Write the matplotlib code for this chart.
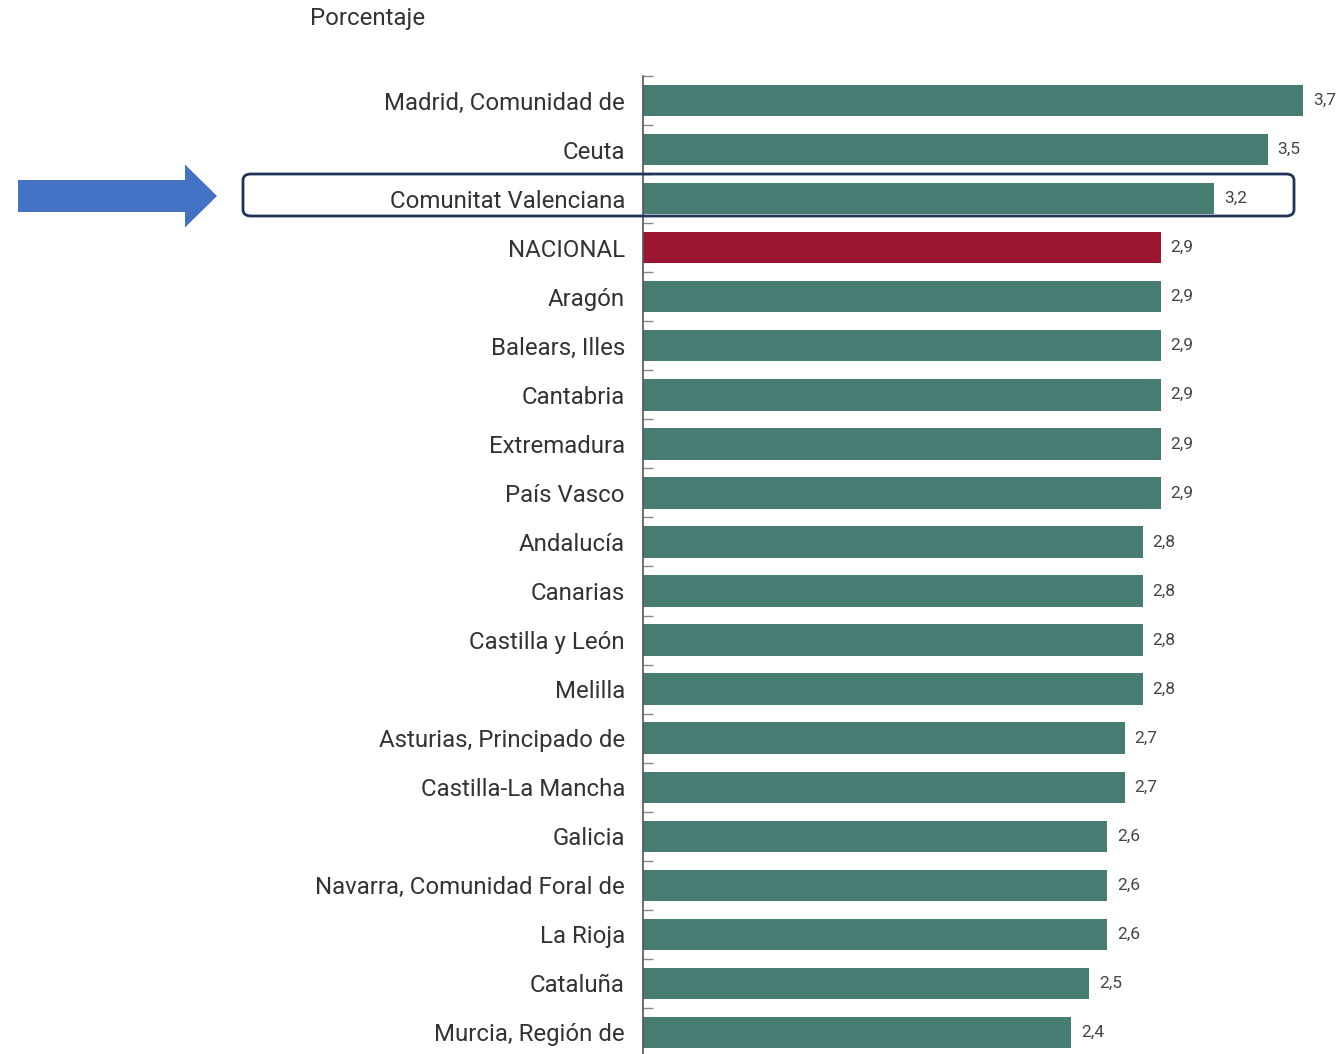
import matplotlib.pyplot as plt
from matplotlib.patches import FancyBboxPatch, FancyArrow

plt.rcParams['font.family'] = ['Roboto', 'DejaVu Sans']

regiones = ['Madrid, Comunidad de', 'Ceuta', 'Comunitat Valenciana', 'NACIONAL',
            'Aragón', 'Balears, Illes', 'Cantabria', 'Extremadura', 'País Vasco',
            'Andalucía', 'Canarias', 'Castilla y León', 'Melilla',
            'Asturias, Principado de', 'Castilla-La Mancha', 'Galicia',
            'Navarra, Comunidad Foral de', 'La Rioja', 'Cataluña', 'Murcia, Región de']
valores = [3.7, 3.5, 3.2, 2.9, 2.9, 2.9, 2.9, 2.9, 2.9, 2.8, 2.8, 2.8, 2.8,
           2.7, 2.7, 2.6, 2.6, 2.6, 2.5, 2.4]

verde = '#467c72'
rojo = '#9a1631'
colores = [rojo if r == 'NACIONAL' else verde for r in regiones]

W, H = 1344, 1054
fig = plt.figure(figsize=(W / 100, H / 100), dpi=100)
ax = fig.add_axes([643 / W, (H - 1057) / H, 696 / W, (1057 - 76) / H])

y = list(range(len(regiones)))
ax.barh(y, valores, height=0.64, color=colores)
ax.set_ylim(len(regiones) - 0.5, -0.5)
ax.set_xlim(0, 3.9)

for yi, v in zip(y, valores):
    ax.text(v + 0.055, yi, f'{v:.1f}'.replace('.', ','), va='center', ha='left',
            fontsize=12.5, color='#444444')

ax.set_yticks(y)
ax.set_yticklabels(regiones, fontsize=17.3, color='#333333')
ax.set_yticks([i - 0.5 for i in range(len(regiones) + 1)], minor=True)
ax.tick_params(axis='y', which='major', length=0, pad=13)
ax.tick_params(axis='y', which='minor', direction='in', length=7, color='#888888', width=1)
ax.set_xticks([])
for s in ['top', 'right', 'bottom']:
    ax.spines[s].set_visible(False)
ax.spines['left'].set_color('#555555')
ax.spines['left'].set_linewidth(1.2)

fig.text(310 / W, 1 - 19 / H, 'Porcentaje', fontsize=17.3, color='#333333',
         ha='left', va='center')

# recuadro resaltando Comunitat Valenciana
box = FancyBboxPatch((243 / W, 1 - 216 / H), (1294 - 243) / W, (216 - 174) / H,
                     boxstyle='round,pad=0,rounding_size=0.006', transform=fig.transFigure,
                     fill=False, edgecolor='#1f3358', linewidth=2, zorder=10)
fig.add_artist(box)

# flecha azul
arrow = FancyArrow(18 / W, 1 - 196 / H, (217 - 18) / W, 0, width=32 / H,
                   head_width=63 / H, head_length=32 / W, length_includes_head=True,
                   transform=fig.transFigure, color='#4472c4', linewidth=0)
fig.add_artist(arrow)

fig.savefig('out.png', dpi=100)
